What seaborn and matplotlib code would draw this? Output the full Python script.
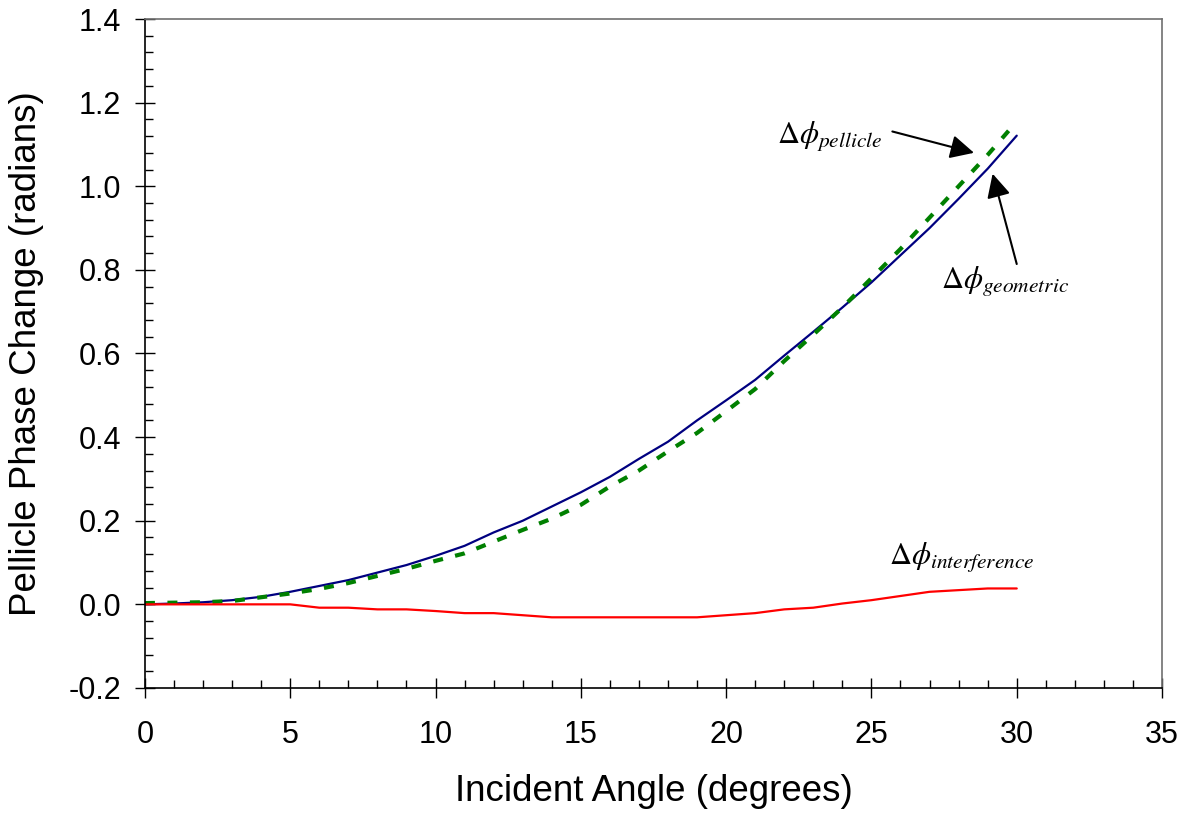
import numpy as np
import matplotlib
matplotlib.use('Agg')
import matplotlib.pyplot as plt
import matplotlib.ticker as mticker
import seaborn as sns
import pandas as pd

#%% data
angle = list(range(0, 31))
geometric = [0.0, 0.002, 0.005, 0.010, 0.018, 0.030, 0.044, 0.058, 0.076, 0.094,
             0.116, 0.140, 0.172, 0.200, 0.234, 0.268, 0.305, 0.348, 0.389, 0.440,
             0.488, 0.537, 0.595, 0.652, 0.710, 0.770, 0.835, 0.900, 0.970, 1.042,
             1.121]
pellicle = [0.003, 0.004, 0.005, 0.008, 0.017, 0.026, 0.037, 0.051, 0.068, 0.085,
            0.104, 0.122, 0.150, 0.178, 0.205, 0.238, 0.282, 0.320, 0.366, 0.410,
            0.462, 0.515, 0.582, 0.645, 0.710, 0.780, 0.850, 0.925, 1.000, 1.075,
            1.155]
interference = [0.0, 0.0, 0.0, 0.0, 0.0, 0.0, -0.008, -0.008, -0.012, -0.012,
                -0.016, -0.021, -0.021, -0.026, -0.031, -0.031, -0.031, -0.031, -0.031, -0.031,
                -0.026, -0.021, -0.012, -0.008, 0.002, 0.010, 0.020, 0.030, 0.034, 0.038,
                0.038]

df = pd.DataFrame({'angle': angle, 'geometric': geometric,
                   'pellicle': pellicle, 'interference': interference})

#%% style
sns.set_theme(style='ticks')
plt.rcParams['font.family'] = ['Liberation Sans', 'DejaVu Sans']
plt.rcParams['mathtext.fontset'] = 'stix'
plt.rcParams['axes.unicode_minus'] = False
plt.rcParams['text.color'] = 'black'
plt.rcParams['axes.labelcolor'] = 'black'
plt.rcParams['xtick.color'] = 'black'
plt.rcParams['ytick.color'] = 'black'

fig = plt.figure(figsize=(11.9, 8.16), dpi=100)
ax = fig.add_axes([0.1218, 0.1569, 0.8547, 0.8198])

sns.lineplot(data=df, x='angle', y='geometric', color='#000080', lw=1.6, ax=ax)
sns.lineplot(data=df, x='angle', y='pellicle', color='#008000', lw=3.0,
             linestyle=(0, (2.4, 3.0)), ax=ax)
sns.lineplot(data=df, x='angle', y='interference', color='#ff0000', lw=1.6, ax=ax)

ax.set_xlim(0, 35)
ax.set_ylim(-0.2, 1.4)
ax.xaxis.set_major_locator(mticker.MultipleLocator(5))
ax.xaxis.set_minor_locator(mticker.MultipleLocator(1))
ax.yaxis.set_major_locator(mticker.MultipleLocator(0.2))
ax.yaxis.set_minor_locator(mticker.MultipleLocator(0.04))
ax.yaxis.set_major_formatter(mticker.FormatStrFormatter('%.1f'))

ax.tick_params(which='both', bottom=True, left=True, top=False, right=False)
ax.tick_params(which='major', direction='inout', length=14, width=1.0,
               labelsize=22, pad=10)
ax.tick_params(which='minor', direction='in', length=6, width=1.0)
ax.tick_params(axis='x', which='major', pad=16)

for s in ['left', 'bottom']:
    ax.spines[s].set_color('black')
    ax.spines[s].set_linewidth(1.2)
for s in ['top', 'right']:
    ax.spines[s].set_visible(True)
    ax.spines[s].set_color('#707070')
    ax.spines[s].set_linewidth(1.2)

ax.set_xlabel('Incident Angle (degrees)', fontsize=26.5, labelpad=17)
ax.set_ylabel('Pellicle Phase Change (radians)', fontsize=26.5, labelpad=18)

#%% annotations
ax.text(23.57, 1.118, r'$\Delta\phi_{pellicle}$', fontsize=22, ha='center', va='center')
ax.text(29.6, 0.771, r'$\Delta\phi_{geometric}$', fontsize=22, ha='center', va='center')
ax.text(28.1, 0.111, r'$\Delta\phi_{interference}$', fontsize=22, ha='center', va='center')

arrow = dict(arrowstyle='-|>', mutation_scale=36, lw=1.5, color='black',
             shrinkA=0, shrinkB=0)
ax.annotate('', xy=(28.53, 1.080), xytext=(25.72, 1.131), arrowprops=arrow)
ax.annotate('', xy=(29.17, 1.030), xytext=(30.0, 0.814), arrowprops=arrow)

plt.savefig('out.png', dpi=100)
